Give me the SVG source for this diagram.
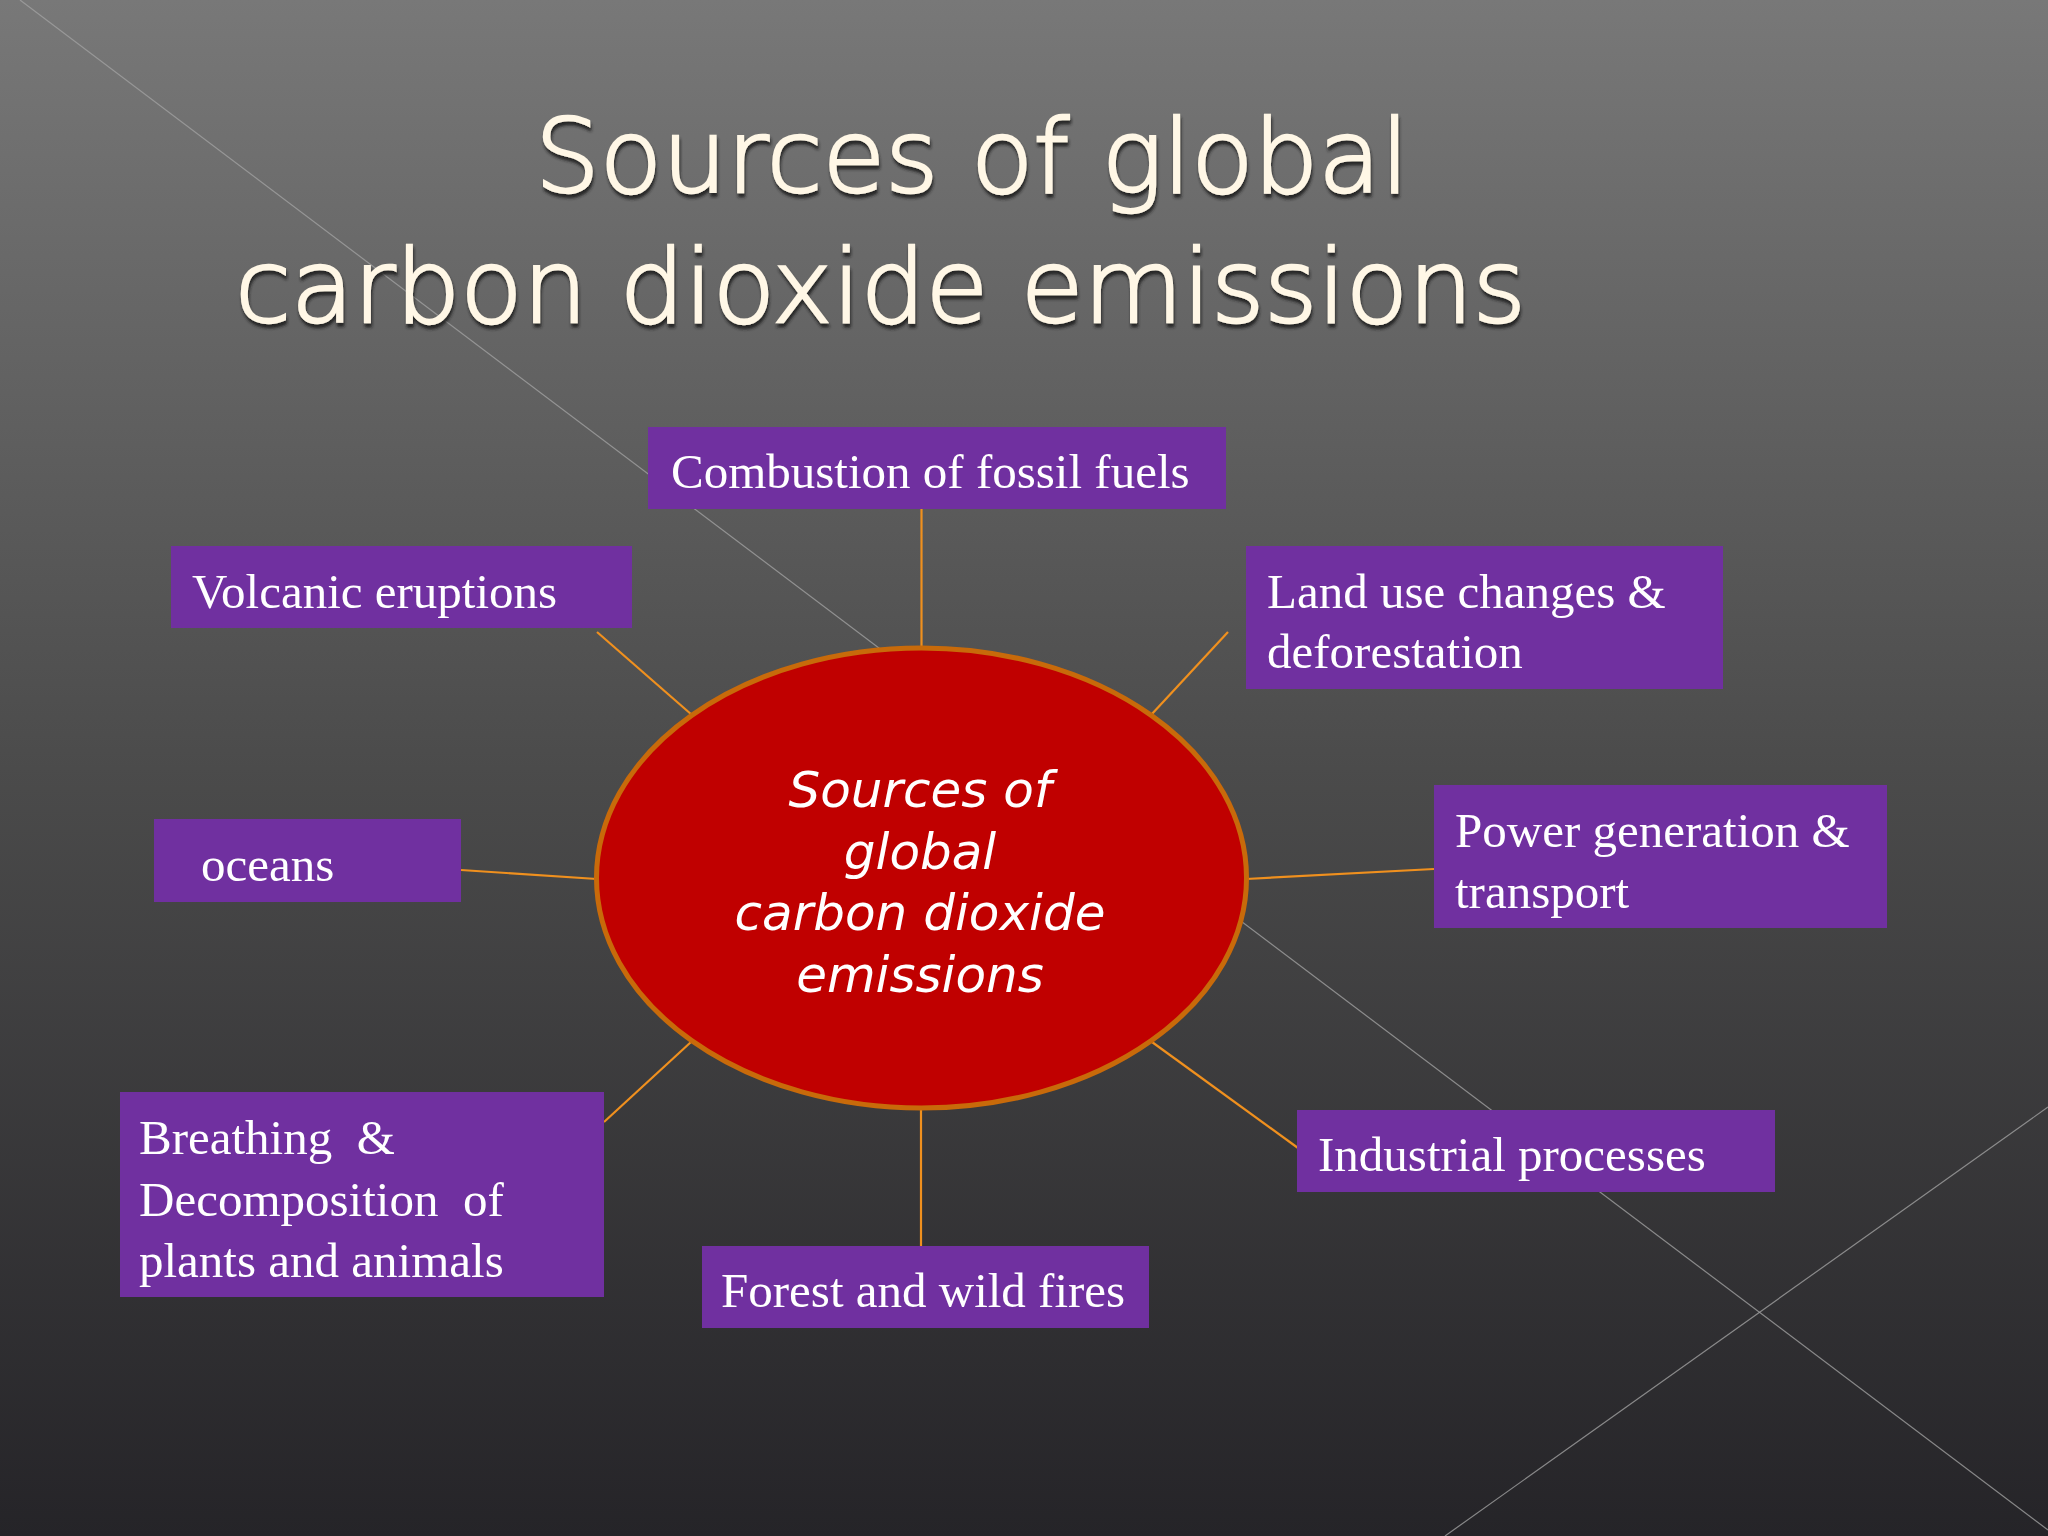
<svg xmlns="http://www.w3.org/2000/svg" width="2048" height="1536" viewBox="0 0 2048 1536">
  <defs>
    <linearGradient id="bg" x1="0" y1="0" x2="0" y2="1">
      <stop offset="0" stop-color="#787878"/>
      <stop offset="0.5" stop-color="#4b4b4b"/>
      <stop offset="1" stop-color="#252428"/>
    </linearGradient>
    <filter id="shadow" x="-5%" y="-20%" width="110%" height="150%">
      <feDropShadow dx="1" dy="4" stdDeviation="1.5" flood-color="#1a1a1a" flood-opacity="0.9"/>
    </filter>
    <style>
      .deco { stroke: #a0a0a0; stroke-width: 1.2; fill: none; opacity: 0.8; }
      .conn { stroke: #f0901e; stroke-width: 2.2; fill: none; }
      .box { fill: #7030a0; }
      .lbl { font-family: "Liberation Serif", "Times New Roman", serif; font-size: 49px; fill: #ffffff; }
      .title { font-family: "DejaVu Sans ExtraLight", "DejaVu Sans", "Century Gothic", sans-serif; font-weight: 200; font-size: 102px; fill: #fff7e6; stroke: #fff7e6; stroke-width: 2.5; }
      .center { font-family: "DejaVu Sans", "Century Gothic", sans-serif; font-size: 50px; font-style: italic; fill: #ffffff; text-anchor: middle; }
    </style>
  </defs>

  <rect x="0" y="0" width="2048" height="1536" fill="url(#bg)"/>
  <g id="background-lines">
    <line class="deco" x1="20" y1="0" x2="2048" y2="1530"/>
    <line class="deco" x1="2048" y1="1107" x2="1445" y2="1536"/>
  </g>

  <g id="title" filter="url(#shadow)">
    <text class="title" x="535" y="192">Sources of global</text>
    <text class="title" x="235" y="322">carbon dioxide emissions</text>
  </g>

  <g id="connectors">
    <line class="conn" x1="921.5" y1="509" x2="921.5" y2="648"/>
    <line class="conn" x1="597" y1="632" x2="692" y2="715"/>
    <line class="conn" x1="1228" y1="632" x2="1151" y2="715"/>
    <line class="conn" x1="461" y1="870" x2="597" y2="879"/>
    <line class="conn" x1="1246" y1="879" x2="1434" y2="869"/>
    <line class="conn" x1="604" y1="1122" x2="691" y2="1042"/>
    <line class="conn" x1="1152" y1="1042" x2="1298" y2="1148"/>
    <line class="conn" x1="921" y1="1108" x2="921" y2="1246"/>
  </g>

  <g id="center">
    <ellipse cx="921.5" cy="878" rx="325" ry="230" fill="#c00000" stroke="#c86a0a" stroke-width="5"/>
    <text class="center" x="920" y="807">Sources of</text>
    <text class="center" x="920" y="869">global</text>
    <text class="center" x="920" y="930">carbon dioxide</text>
    <text class="center" x="920" y="992">emissions</text>
  </g>

  <g id="combustion">
    <rect class="box" x="648" y="427" width="578" height="82"/>
    <text class="lbl" x="671" y="488">Combustion of fossil fuels</text>
  </g>

  <g id="volcanic">
    <rect class="box" x="171" y="546" width="461" height="82"/>
    <text class="lbl" x="192" y="608">Volcanic eruptions</text>
  </g>

  <g id="landuse">
    <rect class="box" x="1246" y="546" width="477" height="143"/>
    <text class="lbl" x="1267" y="608">Land use changes &amp;</text>
    <text class="lbl" x="1267" y="668">deforestation</text>
  </g>

  <g id="oceans">
    <rect class="box" x="154" y="819" width="307" height="83"/>
    <text class="lbl" x="201" y="881">oceans</text>
  </g>

  <g id="power">
    <rect class="box" x="1434" y="785" width="453" height="143"/>
    <text class="lbl" x="1455" y="847">Power generation &amp;</text>
    <text class="lbl" x="1455" y="908">transport</text>
  </g>

  <g id="breathing">
    <rect class="box" x="120" y="1092" width="484" height="205"/>
    <text class="lbl" x="139" y="1154" xml:space="preserve">Breathing  &amp;</text>
    <text class="lbl" x="139" y="1216" xml:space="preserve">Decomposition  of</text>
    <text class="lbl" x="139" y="1277">plants and animals</text>
  </g>

  <g id="industrial">
    <rect class="box" x="1297" y="1110" width="478" height="82"/>
    <text class="lbl" x="1318" y="1171">Industrial processes</text>
  </g>

  <g id="forest">
    <rect class="box" x="702" y="1246" width="447" height="82"/>
    <text class="lbl" x="721" y="1307">Forest and wild fires</text>
  </g>
</svg>
